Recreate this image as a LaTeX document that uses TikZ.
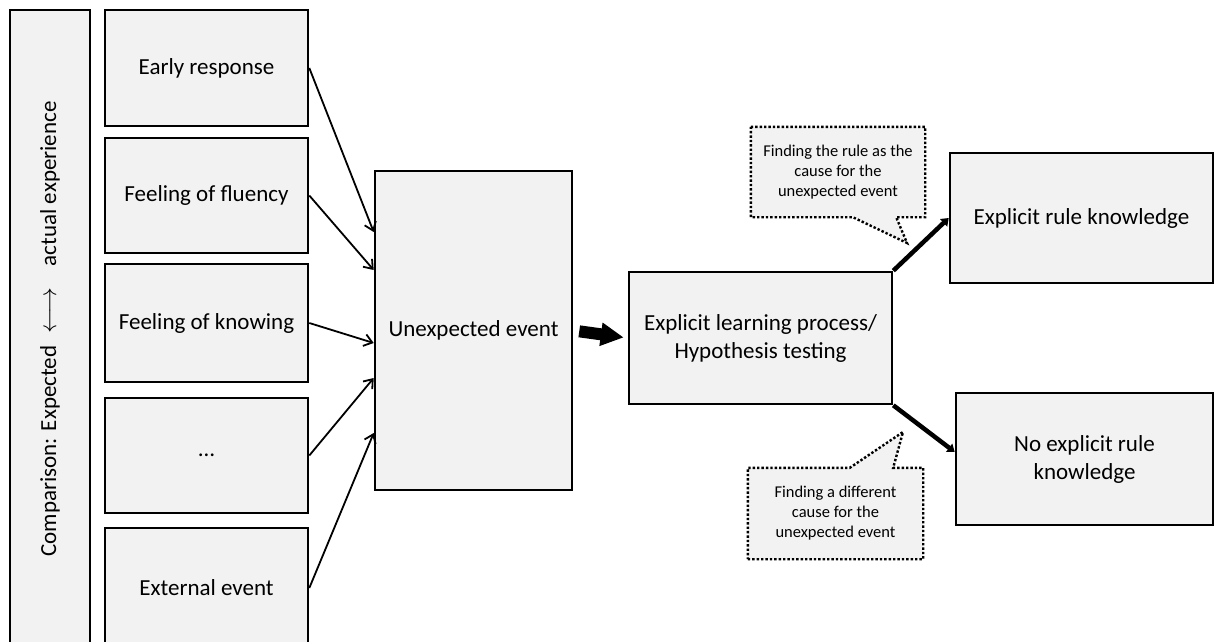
\documentclass[tikz,border=0pt]{standalone}
\usepackage{fontspec}
\setmainfont{Carlito}
\usepackage{tikz}
\usetikzlibrary{arrows.meta}
\definecolor{boxfill}{RGB}{242,242,242}

\tikzset{
  box/.style={draw, line width=2.6pt, fill=boxfill, inner sep=0pt, align=center,
    font=\fontsize{23}{28}\selectfont},
  hint/.style={draw, dotted, line width=2.4pt, fill=boxfill},
  hinttext/.style={inner sep=0pt, align=center, font=\fontsize{16.5}{20}\selectfont},
  feed/.style={line width=1.8pt, -{Straight Barb[length=8pt,width=12pt]}},
  push/.style={line width=12pt, -{Triangle[length=23pt,width=22pt]}, shorten <=6pt, shorten >=4pt},
  split/.style={line width=4.5pt, -{Triangle[length=7pt,width=10pt]}}
}

\begin{document}
\begin{tikzpicture} [x=1pt, y=-1pt]

\path[use as bounding box, clip] (0,0) rectangle (1215,642);

\node (cmp) [box, rotate=90, minimum width=638pt, minimum height=80pt] at (50,329)
  {Comparison: Expected\hspace{12pt}$\longleftrightarrow$\hspace{22pt}actual experience};

\node (early)    [box, minimum width=203pt, minimum height=116pt] at (206.5,68) {Early response};
\node (fluency)  [box, minimum width=203pt, minimum height=115pt] at (206.5,195.5) {Feeling of fluency};
\node (knowing)  [box, minimum width=203pt, minimum height=118pt] at (206.5,323) {Feeling of knowing};
\node (more)     [box, minimum width=203pt, minimum height=115pt] at (206.5,455.5) {…};
\node (external) [box, minimum width=203pt, minimum height=120pt] at (206.5,588) {External event};

\node (unexp)  [box, minimum width=197pt, minimum height=319pt] at (473.5,330.5) {Unexpected event};
\node (learn)  [box, minimum width=263pt, minimum height=132pt] at (760.5,338)
  {Explicit learning process/\\Hypothesis testing};
\node (rule)   [box, minimum width=263pt, minimum height=130pt] at (1081.5,218) {Explicit rule knowledge};
\node (norule) [box, minimum width=257pt, minimum height=132pt] at (1084.5,459)
  {No explicit rule\\knowledge};

\draw[feed] (early.east)    -- ([yshift=98.5pt]unexp.west);
\draw[feed] (fluency.east)  -- ([yshift=60.5pt]unexp.west);
\draw[feed] (knowing.east)  -- ([yshift=-12.5pt]unexp.west);
\draw[feed] (more.east)     -- ([yshift=-47.5pt]unexp.west);
\draw[feed] (external.east) -- ([yshift=-102.5pt]unexp.west);

\draw[push] (unexp.east) -- (learn.west);

\draw[split] (learn.north east) -- (rule.west);
\draw[split] (learn.south east) -- ([yshift=7pt]norule.west);

% speech bubbles
\node (hintA) [hinttext, minimum width=174pt, minimum height=90pt] at (838,172) {};
\coordinate (tipA) at (907,243);
\draw[hint] (hintA.north west) -- (hintA.north east) -- (hintA.south east)
  -- ([xshift=-29pt]hintA.south east) -- (tipA) -- ([xshift=102pt]hintA.south west)
  -- (hintA.south west) -- cycle;
\node [hinttext] at (hintA) {Finding the rule as the\\cause for the\\unexpected event};

\node (hintB) [hinttext, minimum width=175pt, minimum height=91pt] at (835.5,513.5) {};
\coordinate (tipB) at (903,432);
\draw[hint] (hintB.south west) -- (hintB.south east) -- (hintB.north east)
  -- ([xshift=-30pt]hintB.north east) -- (tipB) -- ([xshift=102pt]hintB.north west)
  -- (hintB.north west) -- cycle;
\node [hinttext] at (hintB) {Finding a different\\cause for the\\unexpected event};

\end{tikzpicture}
\end{document}
